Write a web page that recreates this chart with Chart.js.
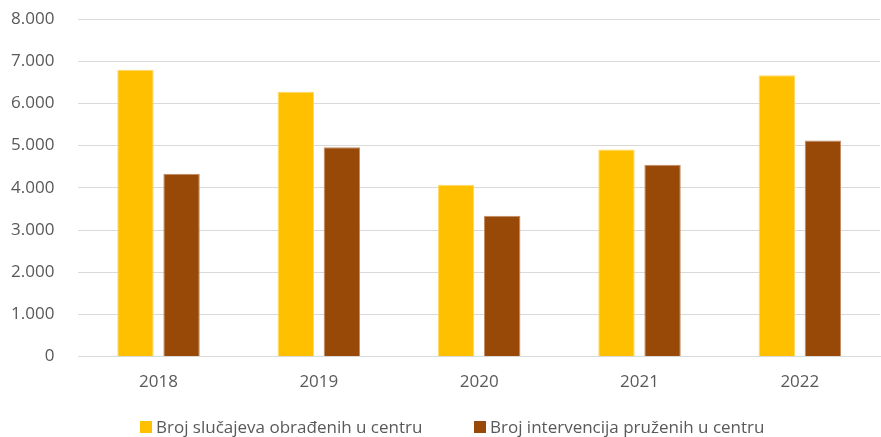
<!DOCTYPE html>
<html>
<head>
<meta charset="utf-8">
<script src="https://cdn.jsdelivr.net/npm/chart.js@4"></script>
<style>
  html, body { margin: 0; padding: 0; background: #fff; }
  #wrap { width: 881px; height: 437px; position: relative; font-family: 'Open Sans', sans-serif; }
  #legend { position: absolute; top: 416px; left: 0; width: 881px; height: 22px; }
  .item { position: absolute; top: 0; color: #595959; font-size: 17px; line-height: 22px; white-space: nowrap; }
  .box { position: absolute; top: 5px; width: 12px; height: 12px; }
  .txt { position: absolute; left: 16px; top: 0; }
</style>
</head>
<body>
<div id="wrap">
  <canvas id="myChart"></canvas>
  <div id="legend"></div>
</div>
<script>
const years = ['2018', '2019', '2020', '2021', '2022'];
const seriesNames = ['Broj slučajeva obrađenih u centru', 'Broj intervencija pruženih u centru'];
const slucajevi = [6800, 6275, 4075, 4905, 6670];
const intervencije = [4335, 4960, 3337, 4549, 5119];
const yTicks = [0, 1000, 2000, 3000, 4000, 5000, 6000, 7000, 8000];
const colors = ['#FFC000', '#984807'];

const fmt = v => String(v).replace(/\B(?=(\d{3})+(?!\d))/g, '.');

function drawChart() {
    const ctx = document.getElementById('myChart').getContext('2d');
    new Chart(ctx, {
        type: 'bar',
        data: {
            labels: years,
            datasets: [
                {
                    label: seriesNames[0],
                    data: slucajevi,
                    backgroundColor: colors[0],
                    borderColor: '#FFD966',
                    borderWidth: 1,
                    categoryPercentage: 0.575,
                    barPercentage: 0.79
                },
                {
                    label: seriesNames[1],
                    data: intervencije,
                    backgroundColor: colors[1],
                    borderColor: '#C28C66',
                    borderWidth: 1,
                    categoryPercentage: 0.575,
                    barPercentage: 0.79
                }
            ]
        },
        options: {
            responsive: true,
            maintainAspectRatio: false,
            animation: false,
            layout: { padding: { left: 8, right: 1, top: 19, bottom: 30 } },
            plugins: {
                legend: { display: false },
                tooltip: { enabled: false }
            },
            scales: {
                x: {
                    grid: { display: false, drawTicks: false },
                    border: { color: '#d9d9d9', width: 1 },
                    ticks: {
                        color: '#595959',
                        font: { family: 'Open Sans', size: 17 },
                        padding: 15
                    }
                },
                y: {
                    min: 0,
                    max: 8000,
                    afterBuildTicks: axis => { axis.ticks = yTicks.map(v => ({ value: v })); },
                    grid: { color: '#d9d9d9', lineWidth: 1, drawTicks: true, tickLength: 21, tickColor: 'rgba(0,0,0,0)' },
                    border: { display: false },
                    ticks: {
                        color: '#595959',
                        font: { family: 'Open Sans', size: 17 },
                        padding: 3,
                        callback: v => fmt(v)
                    }
                }
            }
        }
    });

    // legend drawn as html below the plot
    const legendX = [140, 474];
    const legend = document.getElementById('legend');
    seriesNames.forEach((name, i) => {
        const item = document.createElement('div');
        item.className = 'item';
        item.style.left = legendX[i] + 'px';
        item.innerHTML = '<span class="box" style="background:' + colors[i] + '"></span><span class="txt"></span>';
        item.querySelector('.txt').textContent = name;
        legend.appendChild(item);
    });
}

document.fonts.load('17px "Open Sans"').then(drawChart, drawChart);
</script>
</body>
</html>
